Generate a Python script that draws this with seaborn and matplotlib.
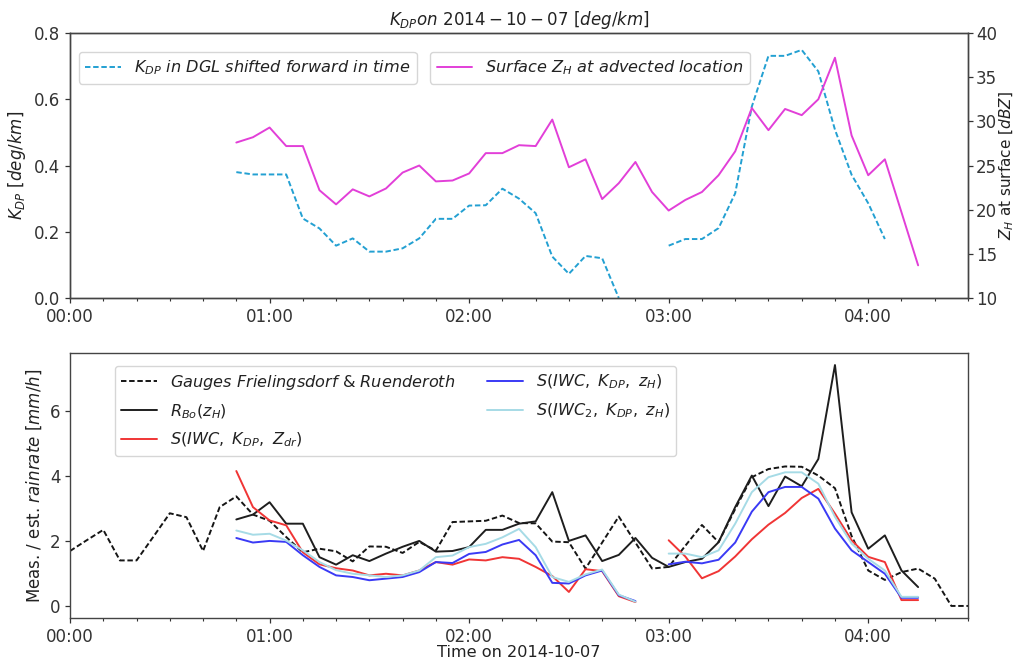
import matplotlib
matplotlib.use("Agg")
import numpy as np
import pandas as pd
import seaborn as sns
import matplotlib.pyplot as plt
import matplotlib.dates as mdates

# ---------------- data (5-minute steps) ----------------
day = "2014-10-07"
kdp_start = "00:50"
kdp_dgl = [0.38, 0.373, 0.373, 0.373, 0.24, 0.21, 0.158, 0.18, 0.14, 0.14,
           0.15, 0.18, 0.239, 0.239, 0.279, 0.28, 0.33, 0.30, 0.256, 0.125,
           0.073, 0.127, 0.12, 0.0, np.nan, np.nan, 0.158, 0.178, 0.178, 0.211,
           0.316, 0.578, 0.731, 0.731, 0.749, 0.684, 0.508, 0.372, 0.286, 0.178]
zh_start = "00:50"
zh_surface = [27.6, 28.2, 29.3, 27.2, 27.2, 22.2, 20.6, 22.3, 21.5, 22.4,
              24.2, 25.0, 23.2, 23.3, 24.1, 26.4, 26.4, 27.3, 27.2, 30.2,
              24.8, 25.7, 21.2, 23.0, 25.4, 22.0, 19.9, 21.1, 22.0, 23.9,
              26.6, 31.5, 29.0, 31.4, 30.7, 32.5, 37.2, 28.4, 23.9, 25.7,
              19.7, 13.7]

gauge_start = "00:00"
gauges = [1.69, 2.02, 2.34, 1.40, 1.40, 2.12, 2.85, 2.73, 1.69, 3.04, 3.37,
          2.81, 2.62, 2.12, 1.65, 1.76, 1.68, 1.37, 1.83, 1.82, 1.63, 1.97, 1.70,
          2.58, 2.60, 2.62, 2.78, 2.55, 2.54, 1.98, 1.96, 1.15, 1.95, 2.75, 1.95,
          1.15, 1.20, 1.85, 2.49, 1.96, 2.98, 3.96, 4.21, 4.29, 4.28, 4.01, 3.62,
          2.15, 1.09, 0.80, 1.04, 1.15, 0.84, 0.0, 0.0]
est_start = "00:50"
r_bo = [2.66, 2.81, 3.19, 2.53, 2.53, 1.50, 1.27, 1.56, 1.38, 1.61, 1.82, 2.0,
        1.67, 1.69, 1.81, 2.34, 2.34, 2.53, 2.60, 3.50, 2.0, 2.17, 1.38, 1.57,
        2.09, 1.48, 1.20, 1.35, 1.45, 1.96, 3.04, 4.01, 3.07, 3.98, 3.68, 4.52,
        7.41, 2.88, 1.76, 2.17, 1.09, 0.58]
s_zdr = [4.15, 3.04, 2.63, 2.48, 1.65, 1.28, 1.16, 1.09, 0.94, 0.99, 0.94, 1.09,
         1.35, 1.27, 1.43, 1.40, 1.50, 1.45, 1.20, 0.92, 0.43, 1.13, 1.07, 0.30,
         0.12, np.nan, 2.02, 1.52, 0.85, 1.07, 1.52, 2.05, 2.50, 2.86, 3.32, 3.60,
         2.84, 2.02, 1.51, 1.35, 0.18, 0.18]
s_zh = [2.09, 1.95, 2.0, 1.97, 1.56, 1.20, 0.94, 0.89, 0.79, 0.84, 0.89, 1.04,
        1.35, 1.32, 1.60, 1.66, 1.89, 2.03, 1.56, 0.71, 0.69, 0.94, 1.09, 0.33,
        0.15, np.nan, 1.28, 1.36, 1.31, 1.42, 1.95, 2.90, 3.50, 3.66, 3.66, 3.30,
        2.38, 1.71, 1.35, 0.99, 0.25, 0.25]
s_iwc2 = [2.32, 2.19, 2.22, 2.01, 1.71, 1.35, 1.10, 0.99, 0.94, 0.89, 0.94, 1.09,
          1.50, 1.55, 1.81, 1.91, 2.11, 2.37, 1.81, 0.89, 0.74, 0.97, 1.12, 0.35,
          0.13, np.nan, 1.61, 1.61, 1.50, 1.71, 2.53, 3.50, 3.96, 4.11, 4.11, 3.76,
          2.74, 1.92, 1.45, 1.09, 0.28, 0.28]

top_title = r"$K_{DP}on\ 2014-10-07\ [deg/km]$"
lbl_kdp = r"$K_{DP}\ in\ DGL\ shifted\ forward\ in\ time$"
lbl_zh = r"$Surface\ Z_H\ at\ advected\ location$"
lbl_gauges = r"$Gauges\ Frielingsdorf$ & $Ruenderoth$"
lbl_rbo = r"$R_{Bo}(z_H)$"
lbl_szdr = r"$S(IWC,\ K_{DP},\ Z_{dr})$"
lbl_szh = r"$S(IWC,\ K_{DP},\ z_H)$"
lbl_siwc2 = r"$S(IWC_2,\ K_{DP},\ z_H)$"


def times(start, n):
    return pd.date_range(f"{day} {start}", periods=n, freq="5min")


# ---------------- style ----------------
sns.set_theme(style="ticks")
plt.rcParams.update({
    "font.family": ["DejaVu Sans"],
    "mathtext.fontset": "dejavusans",
    "font.size": 12,
    "axes.labelsize": 12,
    "axes.titlesize": 12,
    "xtick.labelsize": 12,
    "ytick.labelsize": 12,
    "legend.fontsize": 11.6,
    "axes.edgecolor": "#444444",
    "axes.linewidth": 1.0,
    "xtick.color": "#333333",
    "ytick.color": "#333333",
    "xtick.major.size": 3.5,
    "ytick.major.size": 3.5,
    "xtick.minor.size": 2.0,
    "xtick.major.width": 0.9,
    "ytick.major.width": 0.9,
    "xtick.minor.width": 0.8,
    "xtick.major.pad": 3.5,
    "text.color": "#222222",
    "axes.labelcolor": "#222222",
})

fig = plt.figure(figsize=(10.15, 6.64), dpi=100)
ax1 = fig.add_axes([0.069, 0.5512, 0.8847, 0.3991])
ax3 = fig.add_axes([0.069, 0.0693, 0.8847, 0.3991])


def seg_plot(ax, t, vals, label=None, **kw):
    s = pd.Series(np.asarray(vals, dtype=float), index=t)
    grp = s.isna().cumsum()
    line = None
    for _, seg in s.groupby(grp):
        seg = seg.dropna()
        if seg.empty:
            continue
        sns.lineplot(x=seg.index, y=seg.values, ax=ax, label=label, **kw)
        line = ax.get_lines()[-1]
        label = None
    return line


dash = (0, (2.8, 1.4))

# ---------------- top panel ----------------
ax2 = ax1.twinx()
h_kdp = seg_plot(ax1, times(kdp_start, len(kdp_dgl)), kdp_dgl, label=lbl_kdp,
                 color="#23a0d2", lw=1.4, linestyle=dash)
h_zh = seg_plot(ax2, times(zh_start, len(zh_surface)), zh_surface, label=lbl_zh,
                color="#e23fd8", lw=1.4)

t0 = pd.Timestamp(f"{day} 00:00")
t1 = pd.Timestamp(f"{day} 04:30")
for ax in (ax1, ax3):
    ax.set_xlim(t0, t1)
    ax.xaxis.set_major_locator(mdates.HourLocator())
    ax.xaxis.set_minor_locator(mdates.MinuteLocator(byminute=range(0, 60, 10)))
    ax.xaxis.set_major_formatter(mdates.DateFormatter("%H:%M"))

ax1.set_ylim(0, 0.8)
ax1.set_yticks([0, 0.2, 0.4, 0.6, 0.8])
ax2.set_ylim(10, 40)
ax2.set_yticks([10, 15, 20, 25, 30, 35, 40])
ax2.tick_params(axis="y", pad=2.2)
ax1.set_xlabel("")
ax1.set_ylabel(r"$K_{DP}\ [deg/km]$")
ax2.set_ylabel(r"$Z_H$ at surface $[dBZ]$", fontsize=11)
ax2.yaxis.set_label_coords(1.0335, 0.5)
ax1.set_title(top_title)
for sp in ax2.spines.values():
    sp.set_visible(True)

ax1.legend(handles=[h_kdp], labels=[lbl_kdp], loc="upper left",
           bbox_to_anchor=(0.010, 0.928), borderaxespad=0, handlelength=2.2)
ax2.legend(handles=[h_zh], labels=[lbl_zh], loc="upper left",
           bbox_to_anchor=(0.401, 0.928), borderaxespad=0, handlelength=2.2)

# ---------------- bottom panel ----------------
te = times(est_start, len(r_bo))
h1 = seg_plot(ax3, times(gauge_start, len(gauges)), gauges, label=lbl_gauges,
              color="#151515", lw=1.4, linestyle=dash)
h2 = seg_plot(ax3, te, r_bo, label=lbl_rbo, color="#1e1e1e", lw=1.4)
h3 = seg_plot(ax3, times(est_start, len(s_zdr)), s_zdr, label=lbl_szdr,
              color="#f03535", lw=1.4)
h4 = seg_plot(ax3, times(est_start, len(s_zh)), s_zh, label=lbl_szh,
              color="#3a3af5", lw=1.4)
h5 = seg_plot(ax3, times(est_start, len(s_iwc2)), s_iwc2, label=lbl_siwc2,
              color="#a6dbe6", lw=1.4)
ax3.set_yticks([0, 2, 4, 6])
ax3.set_xlabel("Time on 2014-10-07", fontsize=11.6)
ax3.xaxis.set_label_coords(0.5, -0.102)
ax3.set_ylabel(r"Meas. / est. $rainrate\ [mm/h]$")
ax3.legend(handles=[h1, h2, h3, h4, h5],
           labels=[lbl_gauges, lbl_rbo, lbl_szdr, lbl_szh, lbl_siwc2],
           ncol=2, loc="upper left", bbox_to_anchor=(0.05, 0.95),
           borderaxespad=0, handlelength=2.2, labelspacing=0.65)

fig.savefig("out.png", dpi=100)
